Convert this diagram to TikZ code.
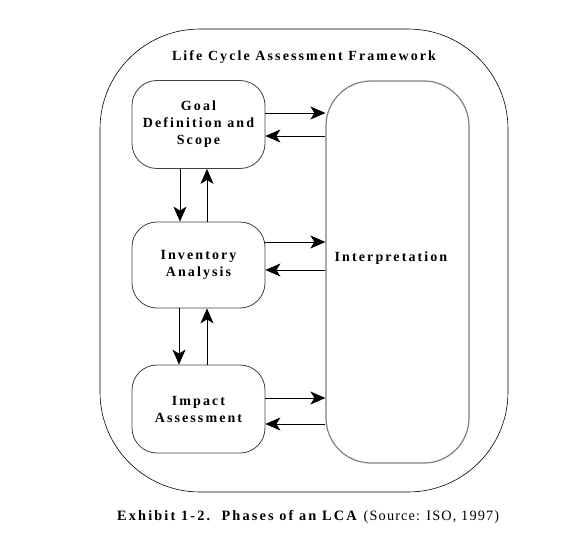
\documentclass[tikz,border=0pt]{standalone}
\usepackage{fontspec}
\setmainfont{Liberation Serif}
\newfontfamily\spaced[LetterSpace=15]{Liberation Serif}
\newfontfamily\spacedn[LetterSpace=8]{Liberation Serif}
\usetikzlibrary{arrows.meta}
\begin{document}
\begin{tikzpicture}[x=1pt,y=-1pt,
  box/.style={draw=black!75,line width=0.8pt,rounded corners=25pt,minimum width=133pt,minimum height=88pt,inner sep=0pt,align=center,font=\spaced\bfseries\fontsize{14}{17}\selectfont},
  arr/.style={line width=0.8pt,-{Stealth[length=15pt,width=13pt,inset=4pt]}},
  lbl/.style={font=\spaced\bfseries\fontsize{14}{17}\selectfont,inner sep=0pt}]
\useasboundingbox (0,0) rectangle (579,555);
\draw[line width=0.6pt,rounded corners=100pt] (100,29) rectangle (508,492);
\node[lbl] (title) at (304,57) {Life Cycle Assessment Framework};
\node[box] (goal) at (198.5,124.5) {Goal\\Definition and\\Scope};
\node[box,minimum height=86pt] (inv) at (198.5,265) {Inventory\\Analysis};
\node[box] (imp) at (198.5,409) {Impact\\Assessment};
\node[draw=black!50,line width=1.2pt,rounded corners=45pt,minimum width=143pt,minimum height=382pt,inner sep=0pt] (interp) at (397.5,272) {};
\node[lbl] (interpt) at (391,258) {Interpretation};
% horizontal arrows
\draw[arr] (goal.east|-0,113) -- (interp.west|-0,113);
\draw[arr] (interp.west|-0,136) -- (goal.east|-0,136);
\draw[arr] (inv.east|-0,242) -- (interp.west|-0,242);
\draw[arr] (interp.west|-0,270) -- (inv.east|-0,270);
\draw[arr] (imp.east|-0,398) -- (interp.west|-0,398);
\draw[arr] (interp.west|-0,424) -- (imp.east|-0,424);
% vertical arrows
\draw[arr] (goal.south-|180,0) -- (inv.north-|180,0);
\draw[arr] (inv.north-|207,0) -- (goal.south-|207,0);
\draw[arr] (inv.south-|179,0) -- (imp.north-|179,0);
\draw[arr] (imp.north-|207,0) -- (inv.south-|207,0);
\node[inner sep=0pt,anchor=west] (cap) at (117,517) {\fontsize{14.3}{16}\selectfont{\spaced\bfseries Exhibit 1-2.\ \ Phases of an LCA}\ \ {\spacedn(Source: ISO, 1997)}};
\end{tikzpicture}
\end{document}
